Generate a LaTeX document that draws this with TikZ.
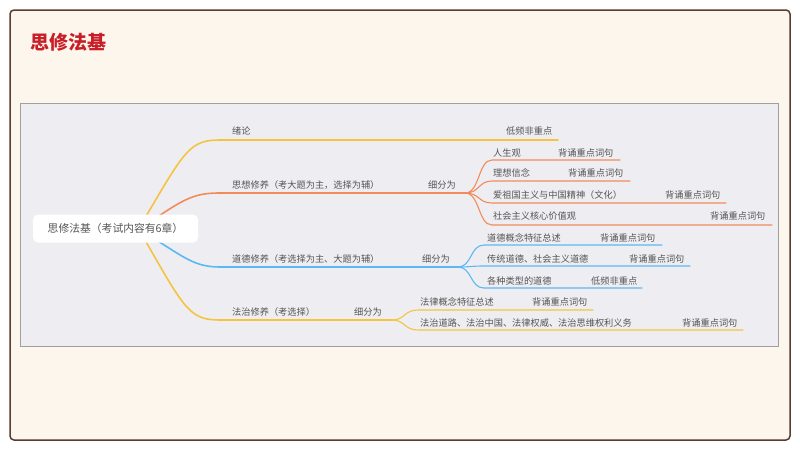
\documentclass[tikz,border=0pt]{standalone}
\usepackage{fontspec}
\setmainfont{Noto Sans CJK SC}
\definecolor{ylw}{HTML}{F5C342}
\definecolor{org}{HTML}{F28B5A}
\definecolor{blu}{HTML}{5BB8F5}
\definecolor{txt}{HTML}{555555}
\begin{document}
\begin{tikzpicture}[x=1pt,y=-1pt,
  lbl/.style={anchor=west,inner sep=0pt,font=\fontsize{9.2}{10}\selectfont,text=txt},
  br/.style={line width=1.6pt,line cap=round},
  sb/.style={line width=1.1pt,line cap=round}]
\useasboundingbox (0,0) rectangle (800,450);
\fill[white] (0,0) rectangle (800,450);
\draw[fill={rgb,255:red,253;green,246;blue,236},draw={rgb,255:red,90;green,60;blue,50},line width=1.5pt,rounded corners=4pt] (10,10) rectangle (790,440);
\node[anchor=west,inner sep=0pt,font=\fontsize{19}{21}\selectfont\bfseries,text={rgb,255:red,200;green,30;blue,40}] (title) at (30,42) {思修法基};
\draw[fill={rgb,255:red,238;green,238;blue,242},draw={rgb,255:red,160;green,160;blue,160},line width=0.6pt] (20,103) rectangle (778,346);
% branches
\draw[br,ylw] (145,218) .. controls (185,150) and (190,140) .. (220,140) -- (558,140);
\draw[br,org] (150,222) .. controls (185,198) and (195,193) .. (220,193) -- (465,193);
\draw[br,blu] (150,236) .. controls (185,258) and (195,267) .. (220,267) -- (458,267);
\draw[br,ylw] (145,240) .. controls (185,310) and (190,320) .. (220,320) -- (392,320);
% children
\foreach \y/\e in {160/620,181/630,203/726,225/772}{
  \draw[sb,org] (465,193) .. controls (480,193) and (478,\y) .. (492,\y) -- (\e,\y);}
\foreach \y/\e in {245/662,266/690,288/642}{
  \draw[sb,blu] (458,267) .. controls (472,267) and (470,\y) .. (484,\y) -- (\e,\y);}
\foreach \y/\e in {310/593,330/743}{
  \draw[sb,ylw] (392,320) .. controls (405,320) and (404,\y) .. (418,\y) -- (\e,\y);}
\node[draw=none,fill=white,rounded corners=5pt,minimum width=165pt,minimum height=28pt,font=\fontsize{10.8}{12}\selectfont,text=txt] (root) at (115.5,228.5) {思修法基（考试内容有6章）};
% labels
\node[lbl] (a) at (232,131) {绪论};
\node[lbl] (a1) at (506,131) {低频非重点};
\node[lbl] (b) at (232,185) {思想修养（考大题为主，选择为辅）};
\node[lbl] (bx) at (428,185) {细分为};
\node[lbl] (b1) at (493,153) {人生观};
\node[lbl] (b1a) at (558,153) {背诵重点词句};
\node[lbl] (b2) at (493,173) {理想信念};
\node[lbl] (b2a) at (568,173) {背诵重点词句};
\node[lbl] (b3) at (493,195) {爱祖国主义与中国精神（文化）};
\node[lbl] (b3a) at (665,195) {背诵重点词句};
\node[lbl] (b4) at (493,216) {社会主义核心价值观};
\node[lbl] (b4a) at (710,216) {背诵重点词句};
\node[lbl] (c) at (232,259) {道德修养（考选择为主、大题为辅）};
\node[lbl] (cx) at (422,259) {细分为};
\node[lbl] (c1) at (487,238) {道德概念特征总述};
\node[lbl] (c1a) at (600,238) {背诵重点词句};
\node[lbl] (c2) at (487,259) {传统道德、社会主义道德};
\node[lbl] (c2a) at (629,259) {背诵重点词句};
\node[lbl] (c3) at (487,281) {各种类型的道德};
\node[lbl] (c3a) at (591,281) {低频非重点};
\node[lbl] (d) at (232,312) {法治修养（考选择）};
\node[lbl] (dx) at (354,312) {细分为};
\node[lbl] (d1) at (420,302) {法律概念特征总述};
\node[lbl] (d1a) at (532,302) {背诵重点词句};
\node[lbl] (d2) at (420,323) {法治道路、法治中国、法律权威、法治思维权利义务};
\node[lbl] (d2a) at (682,323) {背诵重点词句};
\end{tikzpicture}
\end{document}
